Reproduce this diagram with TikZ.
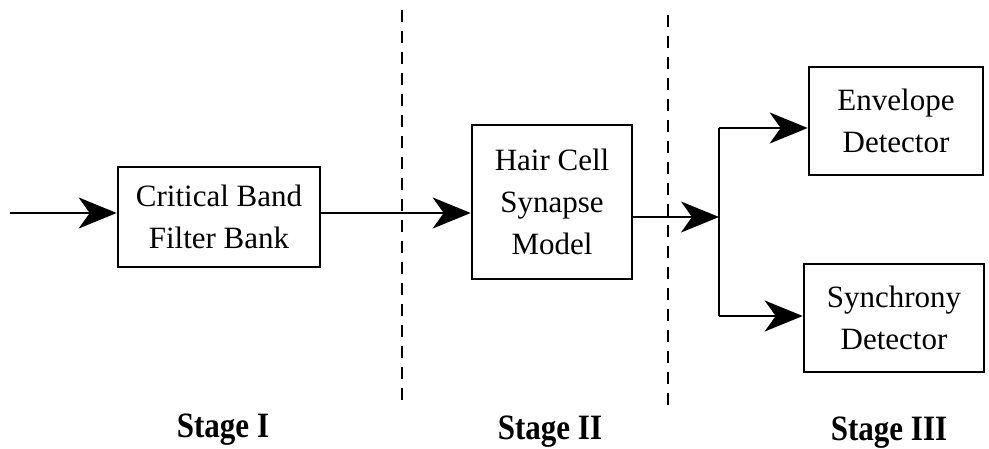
\documentclass[tikz,border=0pt]{standalone}
\usepackage{fontspec}
\setmainfont{Liberation Serif}
\usetikzlibrary{arrows.meta,calc,positioning}
\tikzset{
blk/.style={draw,line width=2.6pt,rectangle,align=center,inner sep=0pt,font=\fontsize{31}{42}\selectfont},
arc/.style={-{Stealth[length=38pt,width=31pt,inset=11pt]},line width=2.2pt},
sep/.style={dashed,dash pattern=on 12pt off 9pt,line width=2pt},
stage/.style={font=\fontsize{31}{38}\selectfont\bfseries,yscale=1.15,transform shape}
}

\begin{document}
\begin{tikzpicture}[x=1pt,y=-1pt]
			\useasboundingbox (0,0) rectangle (989,449);
			
			\coordinate (in) at (10,213);
			\coordinate (split) at (719,217);
			\coordinate (top) at (719,128);
			\coordinate (bot) at (719,316);
			
			%blocks
			\node[blk,minimum width=202,minimum height=100] (cbf) at (219,217) {Critical Band\\Filter Bank};
			\node[blk,minimum width=160,minimum height=154] (hcs) at (552,202) {Hair Cell\\Synapse\\Model};
			\node[blk,minimum width=174,minimum height=108] (env) at (896,121) {Envelope\\Detector};
			\node[blk,minimum width=180,minimum height=108] (syn) at (894,318) {Synchrony\\Detector};
			
			%signal path
			\draw[arc] (in) -- (in -| cbf.west);
			\draw[arc] (cbf.east |- in) -- (hcs.west |- in);
			\draw[arc] (hcs.east |- split) -- (split);
			\draw[line width=2.2pt] (top) -- (bot);
			\draw[arc] (top) -- (top -| env.west);
			\draw[arc] (bot) -- (bot -| syn.west);
			
			%stage borders
			\coordinate (s1a) at (402,10);
			\coordinate (s1b) at (402,400);
			\coordinate (s2a) at (668,15);
			\coordinate (s2b) at (668,405);
			\draw[sep] (s1a) -- (s1b);
			\draw[sep] (s2a) -- (s2b);
			
			\node[stage] (st1) at (223,430) {Stage I};
			\node[stage] (st2) at (550,432) {Stage II};
			\node[stage] (st3) at (889,433) {Stage III};
			
\end{tikzpicture}
\end{document}
